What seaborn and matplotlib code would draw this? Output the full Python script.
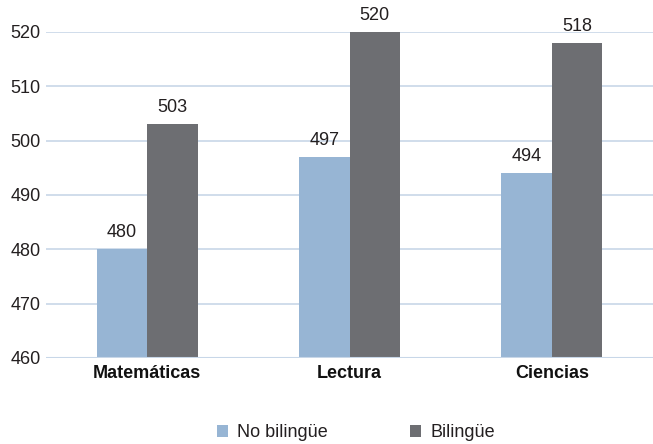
import matplotlib
matplotlib.use("Agg")
import matplotlib.pyplot as plt
import seaborn as sns
import pandas as pd
from matplotlib.patches import Patch

categories = ["Matemáticas", "Lectura", "Ciencias"]
series_names = ["No bilingüe", "Bilingüe"]
no_bilingue = [480, 497, 494]
bilingue = [503, 520, 518]
yticks = [460, 470, 480, 490, 500, 510, 520]

colors = ["#97b5d4", "#6d6e72"]

df = pd.DataFrame({
    "cat": categories * 2,
    "serie": [series_names[0]] * 3 + [series_names[1]] * 3,
    "val": no_bilingue + bilingue,
})

sns.set_theme(style="white")
fams = ["Liberation Sans Narrow", "Liberation Sans", "DejaVu Sans"]
plt.rcParams["font.family"] = fams

fig = plt.figure(figsize=(6.53, 4.44), dpi=100)
ax = fig.add_axes([0.0705, 0.1937, 0.9295, 0.7343])

sns.barplot(data=df, x="cat", y="val", hue="serie", palette=colors,
            width=0.5, ax=ax, legend=False, saturation=1, linewidth=0,
            edgecolor="none")

ax.set_ylim(460, 520)
ax.set_xlim(-0.5, 2.5)
ax.set_yticks(yticks)
ax.yaxis.grid(True, color="#c8d7e8", linewidth=1.2)
ax.set_axisbelow(True)
ax.axhline(460, color="#c8d7e8", linewidth=1.5, zorder=5)
for s in ax.spines.values():
    s.set_visible(False)
ax.set_xlabel("")
ax.set_ylabel("")
ax.tick_params(axis="y", labelsize=13, length=0, pad=4, colors="#231f20")
ax.tick_params(axis="x", labelsize=13, length=0, pad=5)
for lab in ax.get_xticklabels():
    lab.set_fontweight("bold")
    lab.set_color("#111111")

for cont in ax.containers:
    for bar in cont:
        h = bar.get_height()
        ax.annotate(f"{int(round(h))}", (bar.get_x() + bar.get_width() / 2, h),
                    xytext=(0, 6), textcoords="offset points", ha="center",
                    va="bottom", fontsize=13, color="#231f20", clip_on=False,
                    annotation_clip=False)

handles = [Patch(facecolor=c, edgecolor="none") for c in colors]
fig.legend(handles, series_names, loc="center", bbox_to_anchor=(0.545, 0.025),
           ncol=2, frameon=False, fontsize=13, handlelength=0.6, handleheight=0.7,
           columnspacing=4.6, handletextpad=0.5, labelcolor="#231f20")

fig.savefig("out.png", dpi=100)
